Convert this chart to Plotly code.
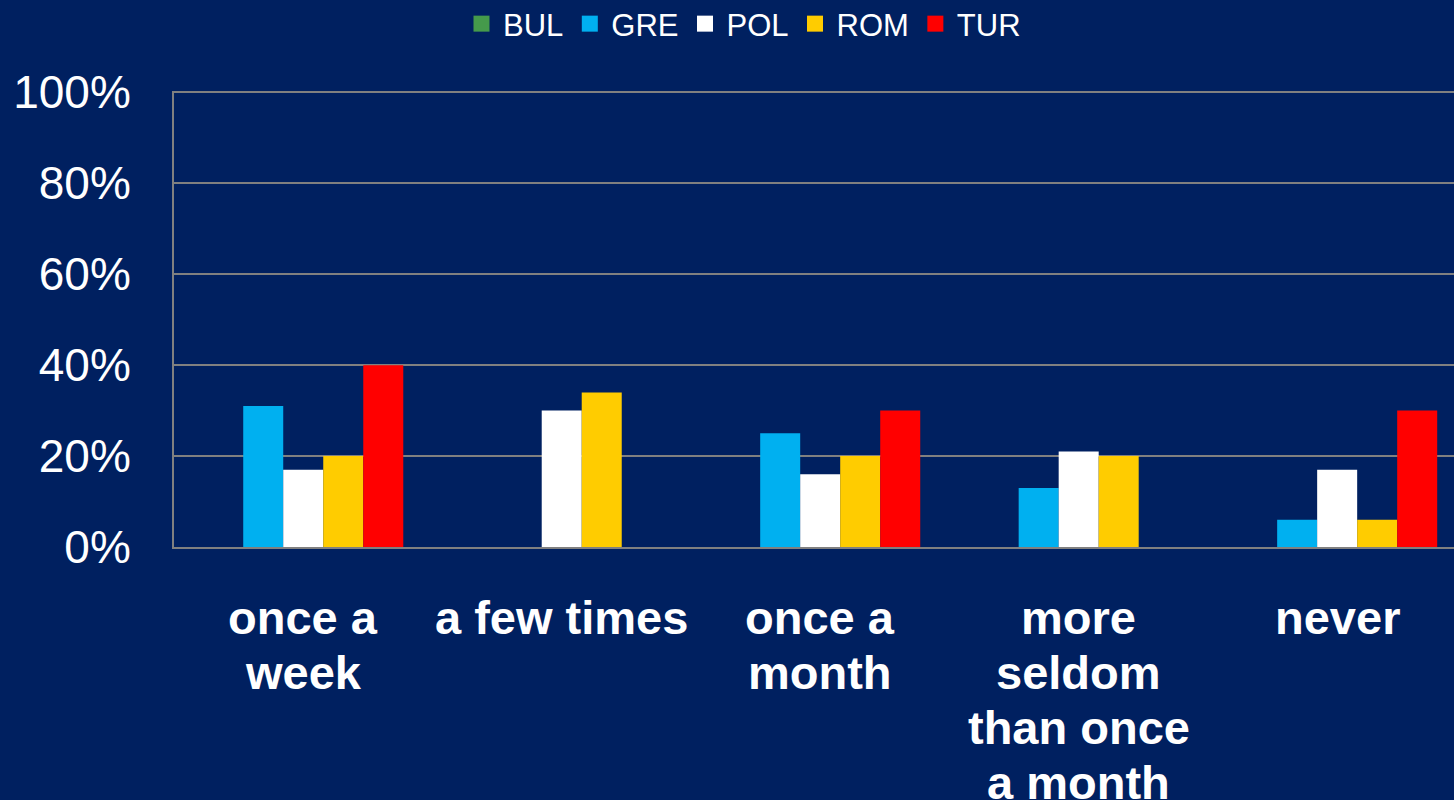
import plotly.graph_objects as go

categories = ["once a week", "a few times", "once a month",
              "more seldom than once a month", "never"]
label_lines = [["once a", "week"], ["a few times"], ["once a", "month"],
               ["more", "seldom", "than once", "a month"], ["never"]]
series_names = ["BUL", "GRE", "POL", "ROM", "TUR"]
bul = [0.00, 0.00, 0.00, 0.00, 0.00]
gre = [0.31, 0.00, 0.25, 0.13, 0.06]
pol = [0.17, 0.30, 0.16, 0.21, 0.17]
rom = [0.20, 0.34, 0.20, 0.20, 0.06]
tur = [0.40, 0.00, 0.30, 0.00, 0.30]
series_values = [bul, gre, pol, rom, tur]
colors = ["#459A4B", "#00B0F0", "#FFFFFF", "#FFCC00", "#FF0000"]
y_ticks = [0, 0.2, 0.4, 0.6, 0.8, 1.0]

BG = "#002060"
GRID = "#808080"
FONT = "Liberation Sans, Arial, sans-serif"

fig = go.Figure()
for name, vals, col in zip(series_names, series_values, colors):
    fig.add_trace(go.Bar(name=name, x=categories, y=vals, legendgroup=name,
                         showlegend=False,
                         marker=dict(color=col, line=dict(width=0))))
# legend entries with larger square swatches
for name, col in zip(series_names, colors):
    fig.add_trace(go.Scatter(name=name, x=[None], y=[None], mode="markers",
                             legendgroup=name, showlegend=True,
                             marker=dict(symbol="square", size=16, color=col,
                                         line=dict(width=0))))

for cat, lines in zip(categories, label_lines):
    for i, line in enumerate(lines):
        fig.add_annotation(text=line, x=cat, xref="x", y=0, yref="paper",
                           yanchor="top", xanchor="center",
                           yshift=-(42 + 55 * i), showarrow=False,
                           font=dict(family=FONT, size=47, color="white",
                                     weight="bold"))

fig.update_layout(
    width=1454, height=800,
    paper_bgcolor=BG, plot_bgcolor=BG,
    margin=dict(l=174, r=0, t=91, b=253),
    barmode="group", bargap=0.226, bargroupgap=0,
    font=dict(family=FONT, color="white"),
    legend=dict(orientation="h", xref="container", yref="container",
                x=0.511, xanchor="center", y=0.970, yanchor="middle",
                font=dict(family=FONT, size=31, color="white"),
                itemwidth=33, itemsizing="trace",
                bgcolor="rgba(0,0,0,0)", traceorder="normal"),
    xaxis=dict(range=[-0.5, 4.452], showticklabels=False, showgrid=False,
               showline=True, linecolor=GRID, linewidth=2, ticks="",
               zeroline=False),
    yaxis=dict(range=[0, 1.003], tickvals=y_ticks, tickformat=".0%",
               showgrid=True, gridcolor=GRID, gridwidth=2,
               showline=True, linecolor=GRID, linewidth=2,
               zeroline=False, ticks="", ticklabelstandoff=32,
               tickfont=dict(family=FONT, size=46, color="white")),
)

fig.write_html("out.html", config={"displayModeBar": False},
               post_script="document.body.style.margin='0';"
                           "document.body.style.background='#002060';")
